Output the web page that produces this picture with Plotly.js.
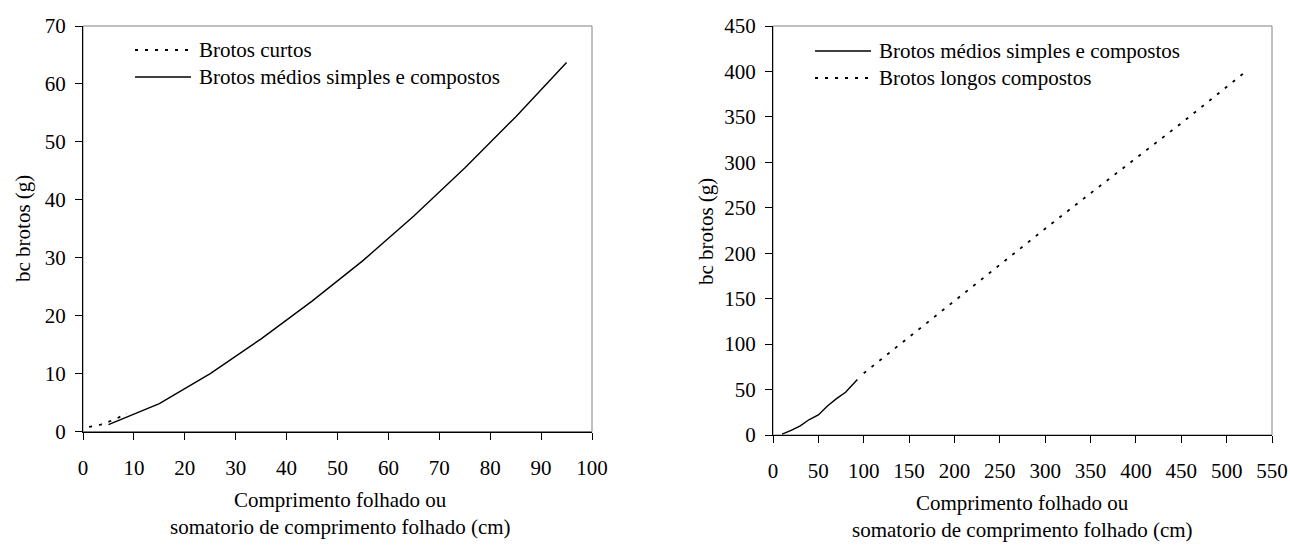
<!DOCTYPE html>
<html>
<head>
<meta charset="utf-8">
<script src="https://cdn.plot.ly/plotly-3.0.1.min.js"></script>
<style>
html,body{margin:0;padding:0;background:#fff;font-family:"Liberation Serif";}
#chart{position:relative;width:1290px;height:545px;}
#chart text{font-family:"Liberation Serif" !important;}
</style>
</head>
<body>
<div id="chart"></div>
<script>
// Left chart data
const curtosX = [1.2, 3.5, 6, 8.6];
const curtosY = [0.8, 1.2, 2.0, 3.1];
const mediosLeftX = [5, 15, 25, 35, 45, 55, 65, 75, 85, 95];
const mediosLeftY = [1.2, 4.8, 10, 16, 22.5, 29.5, 37.2, 45.5, 54.3, 63.7];
// Right chart data
const mediosRightX = [10, 20, 30, 40, 50, 60, 70, 80, 93];
const mediosRightY = [1, 5, 10, 17, 22, 32, 40, 47, 61];
const longosX = [100, 150, 200, 250, 300, 350, 400, 450, 520];
const longosY = [68, 108, 148, 188, 227, 266, 305, 343, 399];

const leftXTicks = [0, 10, 20, 30, 40, 50, 60, 70, 80, 90, 100];
const leftYTicks = [0, 10, 20, 30, 40, 50, 60, 70];
const rightXTicks = [0, 50, 100, 150, 200, 250, 300, 350, 400, 450, 500, 550];
const rightYTicks = [0, 50, 100, 150, 200, 250, 300, 350, 400, 450];

const yTitle = 'bc brotos (g)';
const xTitleLines = ['Comprimento folhado ou', 'somatorio de comprimento folhado (cm)'];
const leftLegend = ['Brotos curtos', 'Brotos médios simples e compostos'];
const rightLegend = ['Brotos médios simples e compostos', 'Brotos longos compostos'];

const FONT = "Liberation Serif";
const DOT = '3px,7px';
const W = 1290, H = 545;
const px = v => v / W, py = v => 1 - v / H;

const traces = [
  {x: curtosX, y: curtosY, name: leftLegend[0], mode: 'lines', xaxis: 'x', yaxis: 'y',
   line: {color: '#000', width: 1.8, dash: DOT}},
  {x: mediosLeftX, y: mediosLeftY, name: leftLegend[1], mode: 'lines', xaxis: 'x', yaxis: 'y',
   line: {color: '#000', width: 1.4}},
  {x: mediosRightX, y: mediosRightY, name: rightLegend[0], mode: 'lines', xaxis: 'x2', yaxis: 'y2',
   line: {color: '#000', width: 1.4}},
  {x: longosX, y: longosY, name: rightLegend[1], mode: 'lines', xaxis: 'x2', yaxis: 'y2',
   line: {color: '#000', width: 1.8, dash: DOT}}
];

const axisCommon = {
  showgrid: false, zeroline: false, showline: true, linecolor: '#000', linewidth: 1,
  ticks: 'outside', ticklen: 7, tickcolor: '#000', tickwidth: 1,
  tickfont: {family: FONT, size: 21, color: '#000'}, fixedrange: true,
  ticklabeloverflow: 'allow'
};

const shapes = [
  {type: 'rect', xref: 'x domain', yref: 'y domain', x0: 0, x1: 1, y0: 0, y1: 1,
   line: {color: '#808080', width: 1}, layer: 'below'},
  {type: 'rect', xref: 'x2 domain', yref: 'y2 domain', x0: 0, x1: 1, y0: 0, y1: 1,
   line: {color: '#808080', width: 1}, layer: 'below'},
  {type: 'line', xref: 'paper', yref: 'paper', x0: px(135), x1: px(191), y0: py(50), y1: py(50),
   line: {color: '#000', width: 1.8, dash: DOT}},
  {type: 'line', xref: 'paper', yref: 'paper', x0: px(135), x1: px(191), y0: py(77), y1: py(77),
   line: {color: '#000', width: 1.4}},
  {type: 'line', xref: 'paper', yref: 'paper', x0: px(815), x1: px(871), y0: py(51), y1: py(51),
   line: {color: '#000', width: 1.4}},
  {type: 'line', xref: 'paper', yref: 'paper', x0: px(815), x1: px(871), y0: py(78), y1: py(78),
   line: {color: '#000', width: 1.8, dash: DOT}}
];

function txt(text, x, y, opts) {
  return Object.assign({text: text, xref: 'paper', yref: 'paper', x: px(x), y: py(y), showarrow: false,
    font: {family: FONT, size: 21, color: '#000'}, xanchor: 'center', yanchor: 'middle'}, opts || {});
}

const annotations = [
  txt(leftLegend[0], 197, 50, {xanchor: 'left'}),
  txt(leftLegend[1], 197, 77, {xanchor: 'left'}),
  txt(rightLegend[0], 877, 51, {xanchor: 'left'}),
  txt(rightLegend[1], 877, 78, {xanchor: 'left'}),
  txt(yTitle, 23, 229, {textangle: -90}),
  txt(yTitle, 706, 231, {textangle: -90}),
  txt(xTitleLines[0], 340, 500),
  txt(xTitleLines[1], 340, 527),
  txt(xTitleLines[0], 1022, 503),
  txt(xTitleLines[1], 1022, 530)
];

const layout = {
  width: W, height: H,
  margin: {l: 0, r: 0, t: 0, b: 0},
  paper_bgcolor: '#fff', plot_bgcolor: '#fff',
  font: {family: FONT, size: 21, color: '#000'},
  showlegend: false,
  xaxis: Object.assign({}, axisCommon, {domain: [px(83), px(592)], range: [0, 100],
    tickvals: leftXTicks, ticktext: leftXTicks.map(String), anchor: 'y', ticklabelstandoff: 10}),
  yaxis: Object.assign({}, axisCommon, {domain: [py(431.5), py(26)], range: [0, 70],
    tickvals: leftYTicks, ticktext: leftYTicks.map(String), anchor: 'x', ticklabelstandoff: 5}),
  xaxis2: Object.assign({}, axisCommon, {domain: [px(773), px(1272)], range: [0, 550],
    tickvals: rightXTicks, ticktext: rightXTicks.map(String), anchor: 'y2', ticklabelstandoff: 10}),
  yaxis2: Object.assign({}, axisCommon, {domain: [py(435), py(26)], range: [0, 450],
    tickvals: rightYTicks, ticktext: rightYTicks.map(String), anchor: 'x2', ticklabelstandoff: 5}),
  shapes: shapes,
  annotations: annotations
};

Plotly.newPlot('chart', traces, layout, {displayModeBar: false, staticPlot: true});
</script>
</body>
</html>
